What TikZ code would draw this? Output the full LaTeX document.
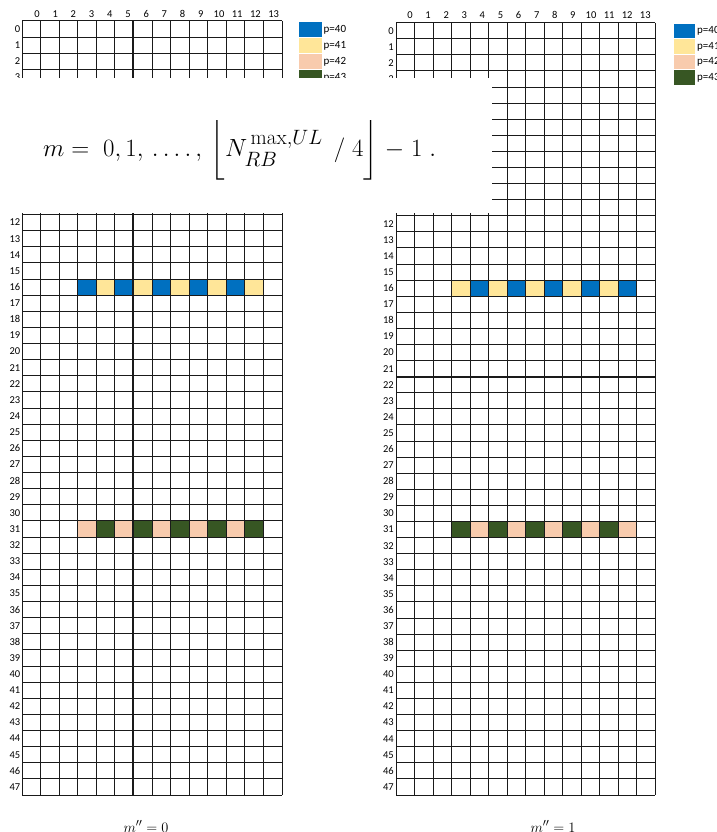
\documentclass[tikz,border=0pt]{standalone}
\usepackage{amsmath}
\usepackage{fontspec}
\newfontfamily\calfont{Carlito}
\definecolor{pblue}{HTML}{0070C0}
\definecolor{pyellow}{HTML}{FFE699}
\definecolor{ppink}{HTML}{F8CBAD}
\definecolor{pgreen}{HTML}{375623}
\definecolor{gline}{HTML}{1A1A1A}
\tikzset{
  gridline/.style={draw=gline,line width=1pt},
  thickline/.style={draw=gline,line width=2pt},
  lbl/.style={inner sep=0pt,font=\calfont\fontsize{10.5}{12}\selectfont},
  leglbl/.style={inner sep=0pt,anchor=west,font=\calfont\fontsize{11}{12}\selectfont},
  legsq/.style={draw=white,line width=0.8pt},
  foot/.style={inner sep=0pt,anchor=base,font=\fontsize{15}{17}\selectfont}
}
\begin{document}
\begin{tikzpicture}[x=1pt,y=-1pt]
\useasboundingbox (0,0) rectangle (716,832);
\fill[white] (0,0) rectangle (716,832);
% ---------- left grid ----------
\def\LX{22}\def\LY{21}\def\LW{18.5714}\def\LH{16.125}
\foreach \c/\col in {3/pblue,4/pyellow,5/pblue,6/pyellow,7/pblue,8/pyellow,9/pblue,10/pyellow,11/pblue,12/pyellow}
  \fill[\col] ({\LX+\c*\LW},{\LY+16*\LH}) rectangle ({\LX+(\c+1)*\LW},{\LY+17*\LH});
\foreach \c/\col in {3/ppink,4/pgreen,5/ppink,6/pgreen,7/ppink,8/pgreen,9/ppink,10/pgreen,11/ppink,12/pgreen}
  \fill[\col] ({\LX+\c*\LW},{\LY+31*\LH}) rectangle ({\LX+(\c+1)*\LW},{\LY+32*\LH});
\foreach \i in {0,...,14}
  \draw[gridline] ({\LX+\i*\LW},\LY) -- ({\LX+\i*\LW},{\LY+48*\LH});
\foreach \j in {0,...,48}
  \draw[gridline] (\LX,{\LY+\j*\LH}) -- ({\LX+14*\LW},{\LY+\j*\LH});
\draw[thickline] ({\LX+6*\LW},\LY) -- ({\LX+6*\LW},{\LY+48*\LH});
\foreach \i in {0,...,13}
  \node[lbl] (lc\i) at ({37+\i*18.2},14) {\i};
\foreach \j in {0,...,3,12,13,...,47}
  \node[lbl,anchor=east] (lr\j) at (20.5,{\LY+(\j+0.5)*\LH}) {\j};
% ---------- right grid ----------
\def\RX{396}\def\RY{22.7}\def\RW{18.5}\def\RH{16.09}
\foreach \c/\col in {3/pyellow,4/pblue,5/pyellow,6/pblue,7/pyellow,8/pblue,9/pyellow,10/pblue,11/pyellow,12/pblue}
  \fill[\col] ({\RX+\c*\RW},{\RY+16*\RH}) rectangle ({\RX+(\c+1)*\RW},{\RY+17*\RH});
\foreach \c/\col in {3/pgreen,4/ppink,5/pgreen,6/ppink,7/pgreen,8/ppink,9/pgreen,10/ppink,11/pgreen,12/ppink}
  \fill[\col] ({\RX+\c*\RW},{\RY+31*\RH}) rectangle ({\RX+(\c+1)*\RW},{\RY+32*\RH});
\foreach \i in {0,...,14}
  \draw[gridline] ({\RX+\i*\RW},\RY) -- ({\RX+\i*\RW},{\RY+48*\RH});
\foreach \j in {0,...,48}
  \draw[gridline] (\RX,{\RY+\j*\RH}) -- ({\RX+14*\RW},{\RY+\j*\RH});
\draw[thickline] (\RX,{\RY+22*\RH}) -- ({\RX+14*\RW},{\RY+22*\RH});
\foreach \i in {0,...,13}
  \node[lbl] (rc\i) at ({410+\i*18.1},15) {\i};
\foreach \j in {0,...,3,12,13,...,47}
  \node[lbl,anchor=east] (rr\j) at (394,{\RY+(\j+0.5)*\RH}) {\j};
% ---------- legends ----------
\foreach \k/\col/\p in {0/pblue/40,1/pyellow/41,2/ppink/42,3/pgreen/43}{
  \fill[\col] (298,{21+\k*16}) rectangle (322,{37+\k*16});
  \draw[legsq] (298,{21+\k*16}) rectangle (322,{37+\k*16});
  \node[leglbl] (ll\k) at (323.5,{30+\k*16}) {p=\p};
  \fill[\col] (673,{23+\k*15.5}) rectangle (695,{38.5+\k*15.5});
  \draw[legsq] (673,{23+\k*15.5}) rectangle (695,{38.5+\k*15.5});
  \node[leglbl] (rl\k) at (697,{31+\k*15.5}) {p=\p};
}
% ---------- formula overlay ----------
\fill[white] (0,78) rectangle (492,213);
\node[inner sep=0pt,anchor=base west,font=\fontsize{30}{31}\selectfont] (formula) at (43,157)
  {$m=\;0,1,\,.\,.\,.\,.\,,\,\biggl\lfloor N_{RB}^{\,\max,UL}\;\,/\;4\biggr\rfloor\;{-}\;1\;.$};
% ---------- footers ----------
\node[foot] (f0) at (146,832) {$m''=0$};
\node[foot] (f1) at (553,832) {$m''=1$};
\end{tikzpicture}
\end{document}
